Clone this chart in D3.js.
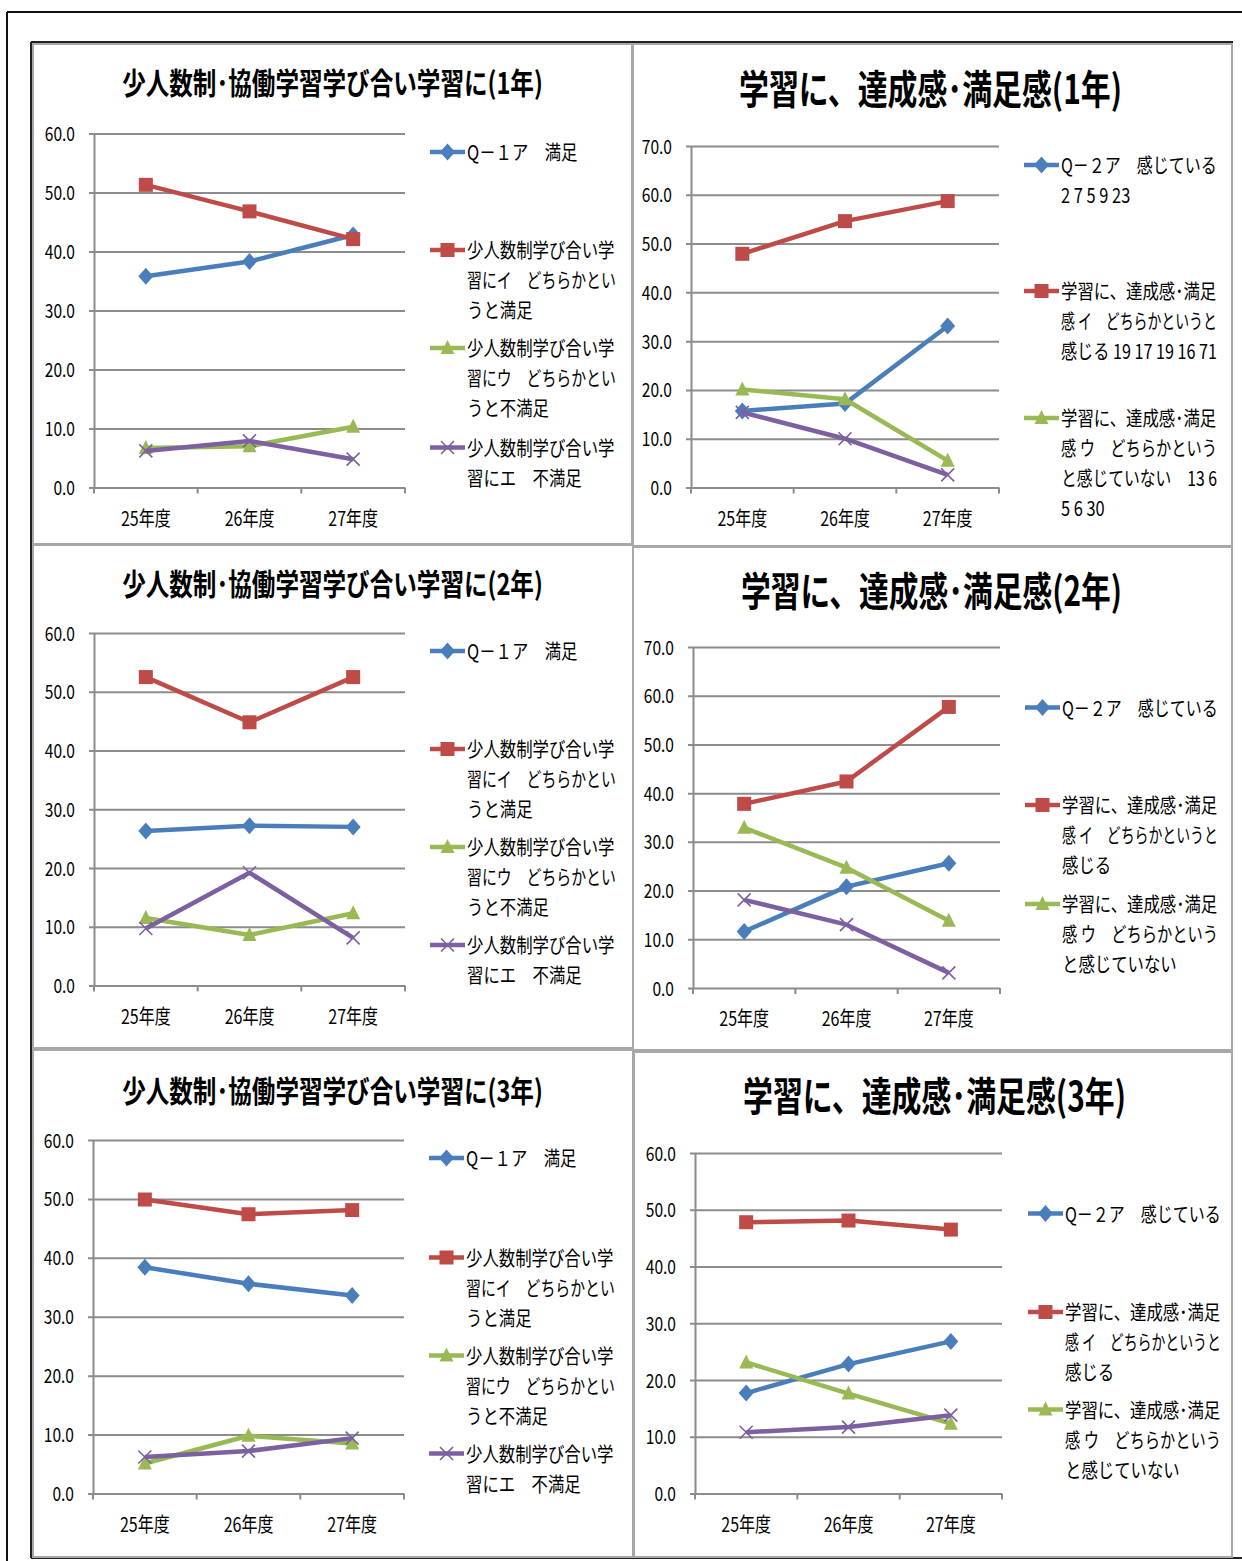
<!DOCTYPE html>
<html>
<head>
<meta charset="utf-8">
<script src="https://cdn.jsdelivr.net/npm/d3@7"></script>
<style>
  html, body { margin: 0; padding: 0; background: #fff; }
  svg { display: block; font-family: "Noto Sans CJK JP", "Noto Sans", sans-serif; }
</style>
</head>
<body>
<div id="chart"></div>
<script>
/* 少人数制・協働学習 / 学習の達成感 — six small line charts */

const years = ['25年度', '26年度', '27年度'];

// series order in every chart: ア, イ, ウ, エ
const kyodo1 = [[35.8, 38.3, 42.8], [51.3, 46.8, 42.1], [6.7, 7.0, 10.3], [6.2, 7.9, 4.8]];
const kyodo2 = [[26.3, 27.2, 27.0], [52.5, 44.8, 52.5], [11.5, 8.6, 12.3], [9.7, 19.2, 8.1]];
const kyodo3 = [[38.4, 35.6, 33.6], [49.9, 47.4, 48.1], [5.1, 9.8, 8.5], [6.2, 7.2, 9.4]];
const tassei1 = [[15.7, 17.2, 33.1], [47.9, 54.6, 58.7], [20.1, 18.1, 5.5], [15.4, 10.0, 2.6]];
const tassei2 = [[11.6, 20.8, 25.6], [37.8, 42.4, 57.7], [32.9, 24.7, 13.8], [18.1, 13.0, 3.1]];
const tassei3 = [[17.7, 22.8, 26.8], [47.8, 48.1, 46.5], [23.1, 17.6, 12.3], [10.8, 11.7, 13.8]];

const kyodoTitles = ['少人数制･協働学習学び合い学習に(1年)', '少人数制･協働学習学び合い学習に(2年)', '少人数制･協働学習学び合い学習に(3年)'];
const tasseiTitles = ['学習に、達成感･満足感(1年)', '学習に、達成感･満足感(2年)', '学習に、達成感･満足感(3年)'];

const kyodoLegend = [
    ['Q－１ア　満足'],
    ['少人数制学び合い学', '習にイ　どちらかとい', 'うと満足'],
    ['少人数制学び合い学', '習にウ　どちらかとい', 'うと不満足'],
    ['少人数制学び合い学', '習にエ　不満足']
];
const tassei1Legend = [
    ['Q－２ア　感じている', '2 7 5 9 23'],
    ['学習に、達成感･満足', '感 イ　どちらかというと', '感じる 19 17 19 16 71'],
    ['学習に、達成感･満足', '感 ウ　どちらかという', 'と感じていない　13 6', '5 6 30']
];
const tasseiLegend = [
    ['Q－２ア　感じている'],
    ['学習に、達成感･満足', '感 イ　どちらかというと', '感じる'],
    ['学習に、達成感･満足', '感 ウ　どちらかという', 'と感じていない']
];

const colors = ['#4a7ebb', '#be4b48', '#98b954', '#7d60a0'];
const shapes = ['diamond', 'square', 'triangle', 'cross'];

const charts = [
    { box: [33, 44, 599, 500], title: kyodoTitles[0], tx: 332.5, ty: 94, tw: 421, ts: 30,
      plot: [94, 405, 133.5, 487.5], max: 60, data: kyodo1, legend: kyodoLegend, lx: 430, lw: 149, ly: [152, 250, 348, 447.5] },
    { box: [633, 44, 599, 502], title: tasseiTitles[0], tx: 930.5, ty: 104, tw: 383, ts: 40,
      plot: [691, 999, 146, 487.5], max: 70, data: tassei1, legend: tassei1Legend, lx: 1024, lw: 156, ly: [165, 291, 418] },
    { box: [33, 545, 600, 503], title: kyodoTitles[1], tx: 332.5, ty: 595, tw: 421, ts: 30,
      plot: [94, 405, 633, 985.5], max: 60, data: kyodo2, legend: kyodoLegend, lx: 430, lw: 149, ly: [651, 749, 847, 945] },
    { box: [633, 547, 599, 503], title: tasseiTitles[1], tx: 931.5, ty: 606, tw: 381, ts: 40,
      plot: [693, 1000, 647, 988], max: 70, data: tassei2, legend: tasseiLegend, lx: 1025, lw: 156, ly: [707.5, 805, 904] },
    { box: [33, 1050, 600, 507], title: kyodoTitles[2], tx: 332.5, ty: 1102, tw: 421, ts: 30,
      plot: [93, 404, 1140, 1493.5], max: 60, data: kyodo3, legend: kyodoLegend, lx: 429, lw: 149, ly: [1158, 1257.5, 1355.5, 1453.5] },
    { box: [634, 1052, 598, 505], title: tasseiTitles[2], tx: 934.5, ty: 1111, tw: 383, ts: 40,
      plot: [695, 1002, 1153, 1493.5], max: 60, data: tassei3, legend: tasseiLegend, lx: 1028, lw: 156, ly: [1213.5, 1312, 1409.5] }
];

const W = 1242, H = 1561;
const svg = d3.select('#chart').append('svg').attr('width', W).attr('height', H);
svg.append('rect').attr('width', W).attr('height', H).attr('fill', '#fff');

// outer frame lines
svg.append('line').attr('x1', 7).attr('y1', 12).attr('x2', W).attr('y2', 12).attr('stroke', '#111').attr('stroke-width', 2);
svg.append('line').attr('x1', 7).attr('y1', 12).attr('x2', 7).attr('y2', H).attr('stroke', '#111').attr('stroke-width', 2);
svg.append('line').attr('x1', 31).attr('y1', 42).attr('x2', 1233).attr('y2', 42).attr('stroke', '#222').attr('stroke-width', 2);
svg.append('line').attr('x1', 31).attr('y1', 42).attr('x2', 31).attr('y2', 1558).attr('stroke', '#222').attr('stroke-width', 2);
svg.append('line').attr('x1', 31).attr('y1', 1558).attr('x2', W).attr('y2', 1558).attr('stroke', '#222').attr('stroke-width', 2);

// text squeezed horizontally; if maxW is given, squeeze further to fit
function addText(g, x, y, str, size, sx, anchor, weight, maxW) {
    const t = g.append('text')
        .attr('text-anchor', anchor || 'start')
        .attr('font-size', size)
        .attr('font-weight', weight || 'normal')
        .attr('fill', '#000')
        .text(str);
    const len = t.node().getComputedTextLength();
    if (maxW && len * sx > maxW) sx = maxW / len;
    t.attr('transform', `translate(${x},${y}) scale(${sx},1)`);
    return t;
}

function marker(g, shape, color) {
    if (shape === 'diamond') {
        g.append('path').attr('d', 'M0,-8.5L7.5,0L0,8.5L-7.5,0Z').attr('fill', color);
    } else if (shape === 'square') {
        g.append('rect').attr('x', -7).attr('y', -7).attr('width', 14).attr('height', 14).attr('fill', color);
    } else if (shape === 'triangle') {
        g.append('path').attr('d', 'M0,-8L7,6L-7,6Z').attr('fill', color);
    } else {
        g.append('path').attr('d', 'M-6.5,-6.5L6.5,6.5M-6.5,6.5L6.5,-6.5').attr('stroke', color).attr('stroke-width', 1.6).attr('fill', 'none');
    }
}

charts.forEach(function(c) {
    const g = svg.append('g');
    const [bx, by, bw, bh] = c.box;
    g.append('rect').attr('x', bx).attr('y', by).attr('width', bw).attr('height', bh)
        .attr('fill', 'none').attr('stroke', '#a8a8a8').attr('stroke-width', 2);

    // title, squeezed to the width it has in the original
    const tt = g.append('text')
        .attr('text-anchor', 'middle')
        .attr('font-size', c.ts)
        .attr('font-weight', 'bold')
        .text(c.title);
    const tlen = tt.node().getComputedTextLength();
    tt.attr('transform', `translate(${c.tx},${c.ty}) scale(${c.tw / tlen},1)`);

    const [x0, x1, yTop, yBot] = c.plot;
    const x = d3.scaleBand().domain(years).range([x0, x1]);
    const y = d3.scaleLinear().domain([0, c.max]).range([yBot, yTop]);

    // y axis with gridlines
    const yAxis = d3.axisLeft(y)
        .tickValues(d3.range(0, c.max + 1, 10))
        .tickSize(5)
        .tickSizeOuter(0)
        .tickFormat(d3.format('.1f'));
    const ya = g.append('g').attr('transform', `translate(${x0},0)`).call(yAxis);
    ya.attr('font-family', null).attr('font-size', null);
    ya.select('.domain').attr('stroke', '#8c8c8c').attr('stroke-width', 2);
    ya.selectAll('.tick line').attr('x1', -5).attr('x2', x1 - x0).attr('stroke', '#8c8c8c').attr('stroke-width', 2);
    ya.selectAll('.tick text')
        .attr('x', null).attr('dy', null)
        .attr('transform', 'translate(-19,7) scale(0.82,1)')
        .attr('font-size', 19)
        .attr('fill', '#000');

    // x axis labels
    const xAxis = d3.axisBottom(x).tickSize(0).tickSizeOuter(0).tickPadding(0);
    const xa = g.append('g').attr('transform', `translate(0,${yBot})`).call(xAxis);
    xa.select('.domain').remove();
    xa.attr('font-family', null).attr('font-size', null);
    xa.selectAll('.tick text')
        .attr('y', null).attr('dy', null)
        .attr('transform', 'translate(0,38) scale(0.8,1)')
        .attr('font-size', 20)
        .attr('fill', '#000');

    // category boundary ticks
    const bounds = years.map(d => x(d)).concat([x1]);
    g.selectAll(null).data(bounds).enter().append('line')
        .attr('x1', d => d).attr('x2', d => d)
        .attr('y1', yBot).attr('y2', yBot + 6)
        .attr('stroke', '#8c8c8c').attr('stroke-width', 2);

    // series
    const cx = d => x(d) + x.bandwidth() / 2;
    const line = d3.line().x((d, i) => cx(years[i])).y(d => y(d));
    c.data.forEach(function(vals, si) {
        g.append('path').datum(vals).attr('d', line)
            .attr('fill', 'none').attr('stroke', colors[si]).attr('stroke-width', 4.5)
            .attr('stroke-linejoin', 'round');
        vals.forEach(function(v, i) {
            const m = g.append('g').attr('transform', `translate(${cx(years[i])},${y(v)})`);
            marker(m, shapes[si], colors[si]);
        });
    });

    // legend
    c.legend.forEach(function(lines, li) {
        const ly = c.ly[li];
        g.append('line').attr('x1', c.lx).attr('x2', c.lx + 35).attr('y1', ly).attr('y2', ly)
            .attr('stroke', colors[li]).attr('stroke-width', 4.5);
        const m = g.append('g').attr('transform', `translate(${c.lx + 17.5},${ly})`);
        marker(m, shapes[li], colors[li]);
        lines.forEach(function(t, k) {
            addText(g, c.lx + 37, ly + 8 + k * 30, t, 20.5, 0.8, 'start', 'normal', c.lw);
        });
    });
});
</script>
</body>
</html>
